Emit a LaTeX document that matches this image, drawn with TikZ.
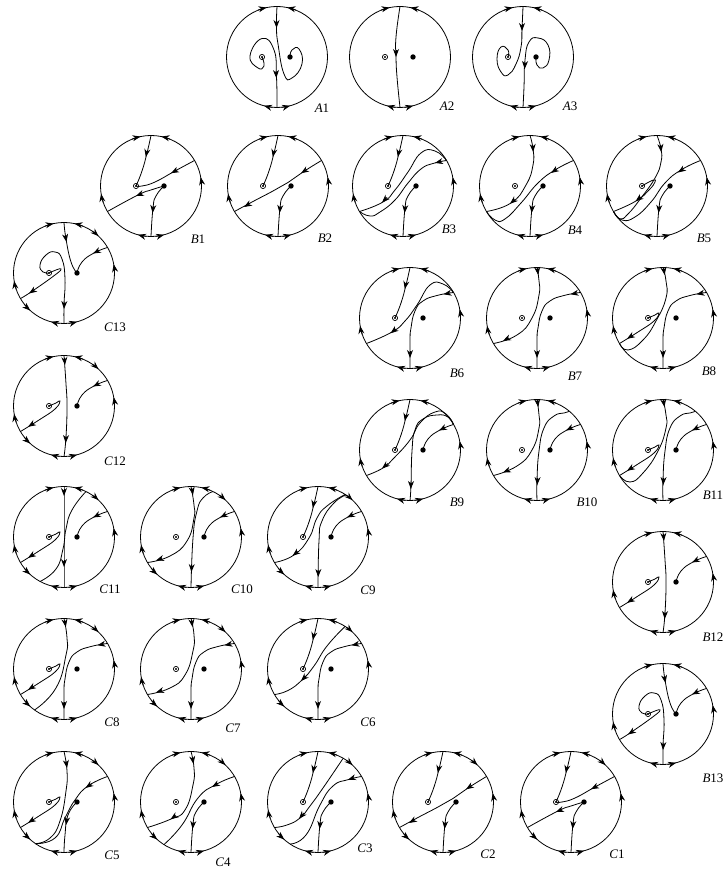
\documentclass[tikz,border=0pt]{standalone}
\usepackage{fontspec}
\setmainfont{Liberation Serif}
\usetikzlibrary{arrows.meta}
\tikzset{
  tp/.tip    = {Stealth[length=8pt,width=6pt]},
  rimln/.style = {line width=.8pt},
  flow/.style  = {line width=.8pt},
  lab/.style   = {font=\fontsize{13}{13}\selectfont, inner sep=0pt},
}
% one trajectory through the given points
\newcommand{\seg}[1]{\draw[flow] plot[smooth,tension=.85] coordinates {#1};}
% arrowhead lying on a trajectory
\newcommand{\tip}[2]{\draw[flow,-tp] #1 -- #2;}
\newcommand{\rimtip}[2]{\draw[rimln,-tp] (#1:50.5) arc[start angle=#1,end angle=#2,radius=50.5];}
\newcommand{\rimA}{
  \draw[rimln] (0,0) circle (50.5);
  \rimtip{112}{102}\rimtip{68}{78}\rimtip{265}{255}\rimtip{275}{285}
  \coordinate (p) at (-15,0);
  \coordinate (q) at (13,0);
  \draw[line width=.7pt] (p) circle (2.6);
  \fill (p) circle (1.1);
  \fill (q) circle (2.7);
}
\newcommand{\rimB}{\rimA\rimtip{0}{10}\rimtip{199}{189}}
\newcommand{\rimC}{\rimB\rimtip{56}{47}\rimtip{218}{228}}
% pieces that come back in many discs
\newcommand{\topp}{\seg{(0,50.5)(-4,33)(-9,15)(p)}\tip{(-4,35)}{(-5.2,29)}}
\newcommand{\botq}{\seg{(q)(5,-10)(2,-22)(0,-50.5)}\tip{(2.2,-20)}{(1.6,-27)}}
\newcommand{\hook}{\seg{(p)(-8,3)(-4,5)(-9,-3)(-25,-14)(-43.5,-25.5)}\tip{(-30.5,-17.4)}{(-36,-20.8)}}
\newcommand{\rimq}{\seg{(43.5,25.5)(30,20)(18,11)(q)}\tip{(35,22.5)}{(29,19.5)}}
\newcommand{\rimdown}{\seg{(43.5,25.5)(27,22.5)(13,17)(5,7)(1,-10)(0,-23)(0,-50.5)}\tip{(40,25)}{(33.5,23.7)}\tip{(0,-33)}{(0,-40)}}
\newcommand{\discone}{
  \topp\botq
  \seg{(43.5,25.5)(24,15)(4,4)(-9,0)(p)}\tip{(26.5,16.2)}{(20,12.8)}
  \seg{(q)(0,-4)(-13,-9)(-43.5,-25.5)}\tip{(-9,-7.5)}{(-15,-10)}
}
\newcommand{\disctwo}{
  \topp\botq
  \seg{(43.5,25.5)(25,14)(10,3.5)(-5,-5)(-25,-15.5)(-43.5,-25.5)}
  \tip{(29,16.6)}{(23,12.7)}\tip{(-28,-17.5)}{(-34,-21)}
}
\newcommand{\disctwelve}{
  \hook\rimq
  \seg{(0,50.5)(2,22)(3,0)(2,-31)(0,-50.5)}\tip{(.4,48)}{(.9,41)}\tip{(2,-30)}{(1.7,-37)}
}
\newcommand{\discthirteen}{
  \seg{(0,50.5)(2,34)(7,11)(q)}\tip{(1.2,38)}{(2.5,31)}
  \rimq
  \seg{(p)(-8,3)(-3,4)(-9,-2)(-33,-19)(-43.5,-25.5)}\tip{(-29,-16.5)}{(-35,-20.5)}
  \seg{(p)(-21,1)(-24,8)(-18,18)(-9,21)(-2,14)(1,-6)(0,-32)(0,-50.5)}\tip{(.3,-29)}{(0,-36)}
}
\begin{document}
\begin{tikzpicture}[x=1pt,y=1pt]
\useasboundingbox (0,0) rectangle (726,869);

\begin{scope}[shift={(277,812)}]
\rimA
\node[lab] (lA1) at (45,-51) {\textit{A}1};
\seg{(0,50.5)(-.5,30)(1,13)(7,-17)(15,-21)(25,-7)(22,8)(15,7)(q)}\tip{(-.5,36)}{(-.5,29)}
\seg{(p)(-13,-9)(-19,-11)(-27,1)(-15,18.5)(-3,7)(-.5,-20)(0,-50.5)}\tip{(-1,-14)}{(-.7,-21)}
\end{scope}

\begin{scope}[shift={(400,812)}]
\rimA
\node[lab] (lA2) at (47,-49) {\textit{A}2};
\seg{(0,50.5)(-4,20)(-4,0)(-3,-20)(0,-50.5)}\tip{(-4,7)}{(-4,0)}
\end{scope}

\begin{scope}[shift={(523,812)}]
\rimA
\node[lab] (lA3) at (47,-49) {\textit{A}3};
\seg{(q)(14,-8)(20,-11)(26,-3)(25,12)(15,19)(6,15)(2,-3)(1,-30)(0,-50.5)}\tip{(2,-5)}{(1.7,-12)}
\seg{(0,50.5)(-1,28)(-2,10)(-7,-7)(-15,-18)(-22,-15)(-26,-2)(-22,10)(-15,7)(p)}\tip{(-1,33)}{(-1,26)}
\end{scope}

\begin{scope}[shift={(151,683)}]
\rimB
\node[lab] (lB1) at (47,-53) {\textit{B}1};
\discone
\end{scope}

\begin{scope}[shift={(278,683)}]
\rimB
\node[lab] (lB2) at (47,-52) {\textit{B}2};
\disctwo
\end{scope}

\begin{scope}[shift={(403,683)}]
\rimB
\node[lab] (lB3) at (46,-43) {\textit{B}3};
\topp\botq
\seg{(43.5,25.5)(32,35)(18,33)(5,14)(-8,-4)(-20,-16)(-43.5,-25.5)}\tip{(-16,-11.5)}{(-21,-16.5)}
\seg{(43.5,25.5)(30,22.5)(18,17)(5,3)(-8,-14)(-23,-26)(-33,-30)(-43.5,-25.5)}\tip{(38,24.5)}{(32,23)}
\end{scope}

\begin{scope}[shift={(530,683)}]
\rimB
\node[lab] (lB4) at (45,-44) {\textit{B}4};
\botq
\seg{(0,50.5)(3,37)(3,21)(-4,1)(-19,-17)(-43.5,-25.5)}\tip{(2.7,41)}{(3.2,34)}\tip{(-15,-13.5)}{(-20,-17.8)}
\seg{(43.5,25.5)(25,16)(8,3)(-9,-17)(-25,-33)(-35,-34)(-43.5,-25.5)}\tip{(27,17)}{(21,13)}
\end{scope}

\begin{scope}[shift={(657,683)}]
\rimB
\node[lab] (lB5) at (47,-52) {\textit{B}5};
\botq
\seg{(0,50.5)(4,37)(4,24)(-2,8)(-16,-12)(-29,-28)(-37,-33)(-43.5,-25.5)}\tip{(3.5,41)}{(4.2,34)}
\seg{(p)(-8,4)(-3,6)(-2,4)(-8,-4)(-21,-15)(-43.5,-25.5)}\tip{(-16,-11)}{(-21.5,-15.3)}
\seg{(43.5,25.5)(24,16)(8,3)(-6,-16)(-22,-31)(-35,-34)(-43.5,-25.5)}\tip{(27,17.5)}{(21,13.5)}
\end{scope}

\begin{scope}[shift={(410,551)}]
\rimB
\node[lab] (lB6) at (47,-55) {\textit{B}6};
\topp\rimdown
\seg{(43.5,25.5)(33,34)(20,33)(7,13)(-5,-3)(-18,-14)(-43.5,-25.5)}\tip{(-14,-11)}{(-19.5,-15.3)}
\end{scope}

\begin{scope}[shift={(537,551)}]
\rimB
\node[lab] (lB7) at (38,-58) {\textit{B}7};
\rimdown
\seg{(0,50.5)(2,37)(2,23)(-5,0)(-20,-17)(-43.5,-25.5)}\tip{(.3,50)}{(1.2,43)}\tip{(-28,-20)}{(-34,-22.8)}
\end{scope}

\begin{scope}[shift={(663,551)}]
\rimB
\node[lab] (lB8) at (46,-53) {\textit{B}8};
\rimdown
\seg{(0,50.5)(3,37)(3,20)(-7,-3)(-20,-22)(-35,-32)(-43.5,-25.5)}\tip{(.5,50)}{(1.7,43)}
\hook
\end{scope}

\begin{scope}[shift={(410,419)}]
\rimB
\node[lab] (lB9) at (47,-52) {\textit{B}9};
\topp\rimq
\seg{(43.5,25.5)(36,36)(25,38)(10,27)(0,10)(-17,-9)(-27,-18)(-43.5,-25.5)}\tip{(-22,-13.5)}{(-28,-18.5)}
\seg{(43.5,25.5)(38,33)(27,35)(13,31)(5,20)(2,-1)(1,-35)(0,-50.5)}\tip{(1,-32)}{(.8,-39)}
\end{scope}

\begin{scope}[shift={(537,419)}]
\rimB
\node[lab] (lB10) at (50,-52) {\textit{B}10};
\rimq
\seg{(0,50.5)(2,35)(2,22)(-5,0)(-20,-16)(-43.5,-25.5)}\tip{(.3,50)}{(1.2,43)}\tip{(-28,-20)}{(-34,-22.5)}
\seg{(32,38.5)(27,37)(17,34)(7,22)(2,-1)(0,-30)(0,-50.5)}\tip{(.5,-28)}{(.2,-35)}
\end{scope}

\begin{scope}[shift={(663,419)}]
\rimB
\node[lab] (lB11) at (50,-45) {\textit{B}11};
\rimq\hook
\seg{(0,50.5)(3,35)(3,22)(-5,-1)(-20,-23)(-33,-32)(-43.5,-25.5)}\tip{(.3,50)}{(1.5,43)}
\seg{(32,38.5)(27,37)(17,34)(7,22)(2,-1)(0,-30)(0,-50.5)}\tip{(.5,-28)}{(.2,-35)}
\end{scope}

\begin{scope}[shift={(663,287)}]
\rimB
\node[lab] (lB12) at (50,-55) {\textit{B}12};
\disctwelve
\end{scope}

\begin{scope}[shift={(663,155)}]
\rimB
\node[lab] (lB13) at (50,-64) {\textit{B}13};
\discthirteen
\end{scope}

\begin{scope}[shift={(64,596)}]
\rimC
\node[lab] (lC13) at (51,-54) {\textit{C}13};
\discthirteen
\end{scope}

\begin{scope}[shift={(64,463)}]
\rimC
\node[lab] (lC12) at (51,-55) {\textit{C}12};
\disctwelve
\end{scope}

\begin{scope}[shift={(64,332)}]
\rimC
\node[lab] (lC11) at (46,-52) {\textit{C}11};
\hook\rimq
\seg{(0,50.5)(0,25)(0,0)(0,-25)(0,-50.5)}\tip{(0,48)}{(0,41)}\tip{(0,-23)}{(0,-30)}
\seg{(22,45.5)(8,27)(2,8)(-1,-12)(-8,-32)(-24,-44.5)}
\end{scope}

\begin{scope}[shift={(191,332)}]
\rimC
\node[lab] (lC10) at (51,-52) {\textit{C}10};
\rimq
\seg{(0,50.5)(3,32)(3,19)(-4,-4)(-21,-19)(-43.5,-25.5)}\tip{(.8,49)}{(2,42)}\tip{(-29,-21.5)}{(-35,-23.5)}
\seg{(22,45.5)(12,39)(6,26)(2,-1)(0,-50.5)}\tip{(.7,-28)}{(.4,-35)}
\end{scope}

\begin{scope}[shift={(318,332)}]
\rimC
\node[lab] (lC9) at (50,-53) {\textit{C}9};
\topp\rimq
\seg{(27,42.5)(9,31)(-1,19)(-9,-1)(-24,-18)(-43.5,-25.5)}\tip{(-20,-14.5)}{(-25.5,-18.8)}
\seg{(28,42)(16,34)(4,16)(1,-4)(0,-50.5)}\tip{(.3,-33)}{(.2,-40)}
\end{scope}

\begin{scope}[shift={(64,200)}]
\rimC
\node[lab] (lC8) at (48,-53) {\textit{C}8};
\hook\rimdown
\seg{(0,50.5)(3,31)(2,14)(-8,-19)(-29.5,-41)}\tip{(.6,49)}{(1.8,42)}
\end{scope}

\begin{scope}[shift={(191,200)}]
\rimC
\node[lab] (lC7) at (42,-59) {\textit{C}7};
\rimdown
\seg{(0,50.5)(3,34)(2,18)(-6,-6)(-21,-19)(-43.5,-25.5)}\tip{(.5,49)}{(1.5,42)}\tip{(-29,-21.5)}{(-35,-23.5)}
\end{scope}

\begin{scope}[shift={(318,200)}]
\rimC
\node[lab] (lC6) at (50,-53) {\textit{C}6};
\topp\rimdown
\seg{(27,42.5)(9,23)(-4,3)(-16,-11)(-30,-21.5)(-43.5,-25.5)}\tip{(-12,-7)}{(-17,-12)}
\end{scope}

\begin{scope}[shift={(64,67)}]
\rimC
\node[lab] (lC5) at (48,-53) {\textit{C}5};
\hook
\seg{(q)(4,-13)(1,-33)(0,-50.5)}\tip{(3,-16)}{(2,-23)}
\seg{(0,50.5)(3,31)(2,11)(-4,-19)(-14,-36)(-28.5,-41.7)}\tip{(2,41)}{(3,34)}
\seg{(43.5,25.5)(24,16)(11,2)(1,-16)(-9,-36)(-28.5,-41.7)}\tip{(28,18.5)}{(21.5,14)}
\end{scope}

\begin{scope}[shift={(191,67)}]
\rimC
\node[lab] (lC4) at (32,-60) {\textit{C}4};
\botq
\seg{(0,50.5)(3,34)(2,17)(-6,-8)(-20,-17)(-43.5,-25.5)}\tip{(1.3,45)}{(2.5,38)}\tip{(-15,-13.5)}{(-20.5,-17.3)}
\seg{(43.5,25.5)(24,17)(7,4)(-9,-23)(-27,-42.5)}\tip{(27,18.5)}{(21,15)}
\end{scope}

\begin{scope}[shift={(318,67)}]
\rimC
\node[lab] (lC3) at (47,-46) {\textit{C}3};
\topp\botq
\seg{(25,43.5)(5,14)(-8,-4)(-18,-16)(-31,-23)(-43.5,-25.5)}\tip{(-14,-11)}{(-19,-16.8)}
\seg{(43.5,25.5)(30,22.3)(15,16)(2,-3)(-12,-33)(-28,-42)}\tip{(36,24.3)}{(30,22.3)}
\end{scope}

\begin{scope}[shift={(443,67)}]
\rimC
\node[lab] (lC2) at (45,-52) {\textit{C}2};
\disctwo
\end{scope}

\begin{scope}[shift={(571,67)}]
\rimC
\node[lab] (lC1) at (46,-52) {\textit{C}1};
\discone
\end{scope}
\end{tikzpicture}
\end{document}
